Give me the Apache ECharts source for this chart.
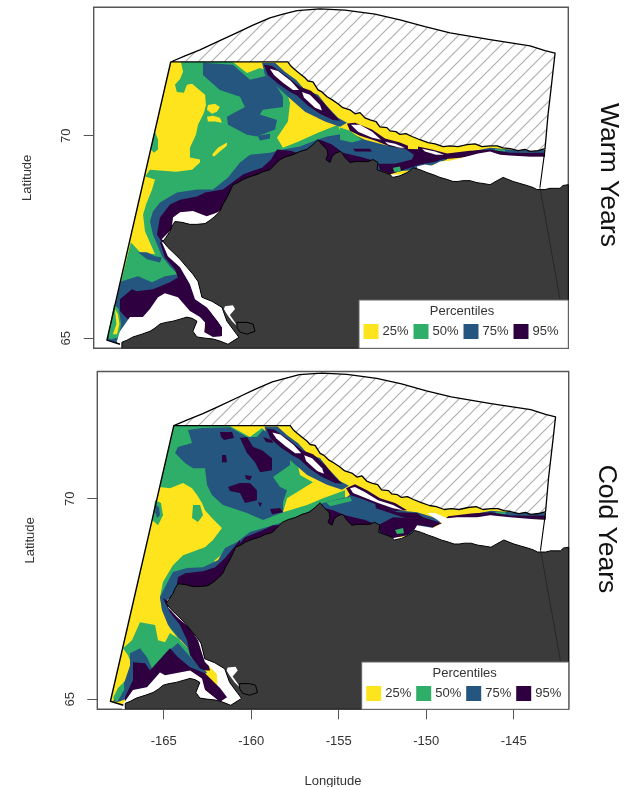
<!DOCTYPE html>
<html><head><meta charset="utf-8">
<style>html,body{margin:0;padding:0;background:#fff}#c{width:627px;height:787px}</style>
<script src="https://cdn.jsdelivr.net/npm/echarts@6/dist/echarts.min.js"></script>
</head><body><div id="c"></div>
<script>
// ---------- labels ----------
const percentileLabels=['25%','50%','75%','95%'];
const panelLabels=['Warm Years','Cold Years'];
const lonTicks=[-165,-160,-155,-150,-145];
const latTicks=[65,70];
const lonRange=[-168.79,-141.86];
const latRange=[64.75,73.17];
const Y='#FDE41C',G='#2EAE68',B='#25567F',P='#2E0040',W='#FFFFFF',LAND='#3B3B3B';
// ---------- shared geography [lon,lat] ----------
const aoiArc=[[-164.42,71.82],[-163.61,71.97],[-162.76,72.12],[-161.91,72.29],[-160.68,72.54],[-159.75,72.73],[-158.79,72.91],[-158.05,73.0],[-157.25,73.09],[-155.95,73.13],[-154.53,73.10],[-152.83,73.0],[-151.41,72.86],[-149.99,72.69],[-148.57,72.54],[-146.30,72.37],[-144.03,72.22],[-143.18,72.10],[-142.61,72.04],[-142.80,71.31],[-143.01,70.52],[-143.18,69.68]];
const iceEdge=[[-143.58,69.63],[-144.03,69.61],[-144.32,69.66],[-144.71,69.63],[-145.17,69.68],[-145.56,69.70],[-145.90,69.75],[-146.30,69.75],[-146.76,69.73],[-147.15,69.80],[-147.61,69.78],[-148.12,69.73],[-148.57,69.75],[-148.97,69.73],[-149.42,69.80],[-149.82,69.83],[-150.28,69.90],[-150.73,69.98],[-151.07,70.05],[-151.41,70.03],[-151.64,70.10],[-151.98,70.12],[-152.15,70.20],[-152.55,70.22],[-152.77,70.35],[-153.11,70.39],[-153.40,70.44],[-153.68,70.57],[-153.96,70.54],[-154.25,70.64],[-154.65,70.69],[-154.93,70.79],[-155.27,70.89],[-155.55,70.96],[-155.84,71.08],[-156.06,71.13],[-156.35,71.33],[-156.63,71.35],[-156.80,71.43],[-157.09,71.53],[-157.37,71.63],[-157.60,71.72],[-157.77,71.82]];
const domainSouth=[[-143.18,69.68],[-143.18,69.48],[-145.74,69.29],[-150.28,69.04],[-154.81,69.04],[-159.92,68.67],[-162.19,67.69],[-161.91,65.22],[-162.76,64.98],[-167.30,64.85],[-168.04,64.95],[-164.42,71.82]];
const westEdge=[[-164.42,71.82],[-168.04,64.95],[-167.30,64.85]];
const eastEdge=[[-143.18,69.66],[-143.28,69.34],[-143.47,68.72]];
const boundaryOnLand=[[-143.47,68.72],[-142.33,65.96]];
const land=[[-141.86,68.79],[-142.16,68.77],[-142.33,68.70],[-142.90,68.70],[-143.18,68.67],[-143.64,68.67],[-143.86,68.72],[-144.20,68.77],[-144.60,68.82],[-144.99,68.87],[-145.28,68.92],[-145.56,68.97],[-145.90,68.89],[-146.30,68.79],[-146.70,68.82],[-147.04,68.84],[-147.44,68.89],[-147.83,68.89],[-148.12,68.87],[-148.40,68.87],[-148.74,68.92],[-149.14,68.97],[-149.54,69.04],[-149.88,69.09],[-150.28,69.16],[-150.67,69.21],[-150.84,69.14],[-151.01,69.09],[-151.41,69.01],[-151.81,68.97],[-151.98,69.04],[-152.26,69.09],[-152.71,69.16],[-152.66,69.34],[-152.94,69.41],[-153.23,69.36],[-153.51,69.36],[-153.91,69.36],[-154.25,69.34],[-154.53,69.46],[-154.70,69.58],[-154.81,69.61],[-155.10,69.56],[-155.27,69.48],[-155.38,69.34],[-155.61,69.41],[-155.50,69.53],[-155.55,69.66],[-155.84,69.78],[-156.06,69.90],[-156.35,69.78],[-156.69,69.66],[-157.09,69.61],[-157.48,69.53],[-157.88,69.48],[-158.22,69.41],[-158.50,69.29],[-158.79,69.16],[-159.19,69.11],[-159.53,69.04],[-159.92,68.99],[-160.32,68.92],[-160.60,68.84],[-160.89,68.79],[-161.06,68.62],[-161.23,68.47],[-161.46,68.30],[-161.63,68.13],[-161.91,68.01],[-162.19,67.91],[-162.47,67.83],[-162.93,67.81],[-163.33,67.81],[-163.78,67.86],[-164.18,67.88],[-164.35,67.76],[-164.46,67.64],[-164.69,67.49],[-164.86,67.39],[-164.58,67.24],[-164.29,67.12],[-163.89,66.95],[-163.50,66.75],[-163.16,66.58],[-162.87,66.40],[-162.76,66.21],[-162.65,66.01],[-162.08,65.91],[-161.51,65.76],[-161.23,65.42],[-160.77,65.15],[-160.55,65.02],[-161.17,64.85],[-161.63,64.93],[-162.02,64.98],[-162.47,65.0],[-162.93,65.03],[-163.16,65.17],[-162.93,65.42],[-163.21,65.49],[-163.50,65.52],[-163.89,65.47],[-164.29,65.42],[-164.69,65.39],[-165.03,65.35],[-165.31,65.25],[-165.60,65.17],[-166.05,65.10],[-166.56,65.03],[-166.90,64.95],[-167.19,64.90],[-167.19,64.75],[-141.86,64.75]];
const bay=[[-161.34,65.79],[-160.89,65.81],[-160.77,65.72],[-161.06,65.57],[-160.77,65.39],[-160.66,65.30],[-160.94,65.42],[-161.23,65.59],[-161.40,65.72]];
const lake=[[-160.66,65.39],[-160.09,65.39],[-159.75,65.35],[-159.64,65.17],[-160.09,65.10],[-160.49,65.15],[-160.66,65.27],[-160.66,65.39]];
// ---------- shared near-ice bands ----------
const blueNorthHalo=[[-159.24,71.80],[-158.50,71.80],[-157.94,71.58],[-157.31,71.38],[-156.80,71.13],[-156.06,71.01],[-155.61,70.76],[-154.93,70.44],[-154.42,70.32],[-154.81,70.22],[-155.67,70.35],[-156.80,70.59],[-157.77,70.96],[-158.50,71.26],[-159.07,71.50]];
const purpleNorthHalo=[[-159.13,71.75],[-158.67,71.72],[-157.94,71.50],[-157.09,71.21],[-156.46,71.11],[-155.78,70.84],[-155.27,70.57],[-154.81,70.37],[-155.21,70.39],[-155.95,70.54],[-156.63,70.74],[-157.25,70.99],[-157.65,71.08],[-158.33,71.28],[-158.90,71.50]];
const whiteLensA=[[-158.79,71.65],[-158.33,71.60],[-157.60,71.35],[-157.14,71.13],[-157.48,71.13],[-158.05,71.31],[-158.56,71.50]];
const whiteLensB=[[-156.97,71.08],[-156.52,71.01],[-155.95,70.76],[-155.84,70.62],[-156.23,70.69],[-156.86,70.94]];
const blueEastStrip=[[-146.30,69.70],[-145.17,69.66],[-143.18,69.66],[-143.18,69.48],[-145.17,69.48],[-146.30,69.58],[-147.44,69.53],[-148.29,69.53]];
const purpleEastStrip=[[-148.74,69.56],[-147.44,69.63],[-146.30,69.66],[-145.17,69.58],[-143.18,69.58],[-143.18,69.48],[-145.17,69.48],[-146.30,69.58],[-147.83,69.46],[-149.14,69.41]];
const greenEastA=[[-146.02,69.67],[-145.45,69.66],[-145.45,69.61],[-146.02,69.63]];
const greenEastB=[[-144.60,69.58],[-143.86,69.58],[-143.86,69.53],[-144.60,69.53]];
// ---------- warm years ----------
const warmGreen=[[-163.84,71.82],[-163.72,71.58],[-163.89,71.40],[-164.18,71.26],[-164.07,71.08],[-163.67,71.06],[-163.50,71.26],[-163.21,71.28],[-162.47,71.01],[-162.42,70.76],[-162.53,70.57],[-162.87,70.27],[-162.99,70.02],[-163.33,69.70],[-163.33,69.46],[-162.76,69.41],[-162.76,69.34],[-163.21,69.16],[-164.12,69.11],[-165.60,69.16],[-165.88,68.99],[-165.31,68.92],[-165.48,68.67],[-165.82,68.30],[-165.99,68.05],[-165.88,67.64],[-165.31,67.07],[-166.16,67.12],[-166.68,67.37],[-167.24,66.40],[-167.50,65.96],[-167.02,65.22],[-162.76,65.96],[-159.92,68.79],[-154.53,69.78],[-154.93,70.27],[-156.06,70.07],[-157.20,69.85],[-158.05,69.70],[-158.39,69.95],[-157.77,70.35],[-157.65,70.81],[-157.82,71.06],[-158.33,71.50],[-159.36,71.67],[-160.09,71.55],[-160.89,71.82]];
const warmGreenEdgeBlob=[[-165.31,70.10],[-165.14,69.90],[-165.14,69.66],[-165.37,69.58],[-165.54,69.66],[-165.43,69.95]];
const warmYellowA=[[-162.31,70.76],[-161.91,70.79],[-161.63,70.71],[-161.80,70.59],[-162.08,70.54],[-162.36,70.64]];
const warmYellowB=[[-162.36,70.47],[-162.02,70.49],[-161.63,70.44],[-161.51,70.32],[-161.91,70.35],[-162.31,70.35]];
const warmYellowC=[[-162.08,69.53],[-161.74,69.70],[-161.23,69.83],[-161.23,69.75],[-161.63,69.61],[-161.97,69.48]];
const warmBlueMain=[[-162.59,71.80],[-160.89,71.75],[-159.92,71.38],[-158.79,71.50],[-158.05,70.96],[-158.05,70.71],[-159.19,70.64],[-159.36,70.52],[-158.39,70.39],[-158.50,70.15],[-159.53,69.98],[-160.09,70.02],[-161.17,70.27],[-161.23,70.47],[-160.21,70.71],[-160.49,70.96],[-161.63,71.13],[-162.59,71.50]];
const warmBlueSmall=[[-159.47,70.00],[-158.79,70.05],[-158.79,69.93],[-159.36,69.88]];
const warmBlueCoast=[[-148.74,69.48],[-150.28,69.66],[-151.01,69.66],[-152.38,69.78],[-153.40,69.90],[-154.25,70.07],[-155.55,69.98],[-156.12,69.90],[-157.09,69.73],[-158.05,69.66],[-158.79,69.58],[-159.92,69.53],[-160.49,69.34],[-161.17,68.97],[-162.02,68.67],[-162.93,68.67],[-164.07,68.60],[-165.03,68.35],[-165.43,68.13],[-165.60,67.88],[-165.43,67.56],[-165.20,67.32],[-164.92,67.02],[-164.46,66.77],[-164.01,66.58],[-164.75,66.53],[-165.48,66.38],[-166.28,66.53],[-167.24,66.40],[-168.04,64.95],[-167.30,64.85],[-166.73,65.47],[-162.76,65.47],[-160.49,65.96],[-159.36,68.42],[-154.25,69.04],[-150.28,69.16],[-148.74,69.41]];
const warmBlueBand=[[-166.28,67.12],[-165.77,66.95],[-165.03,66.87],[-164.92,66.99],[-165.31,67.02],[-165.77,67.12]];
const warmGreenCorner=[[-167.64,65.84],[-167.36,65.72],[-167.24,65.35],[-167.36,65.02],[-167.87,64.97],[-167.98,65.07]];
const warmYellowCorner=[[-167.58,65.72],[-167.41,65.59],[-167.33,65.35],[-167.47,65.10],[-167.70,65.10],[-167.50,65.35],[-167.56,65.59]];
const warmGreenSliver=[[-154.81,70.20],[-154.25,70.12],[-153.57,69.90],[-154.13,69.83],[-154.81,69.90]];
const warmPurpleCape=[[-160.32,69.04],[-161.46,68.67],[-162.47,68.60],[-162.93,68.50],[-163.89,68.42],[-164.46,68.30],[-165.03,67.98],[-165.20,67.56],[-164.92,67.37],[-164.18,67.44],[-161.06,67.93],[-159.36,68.92]];
const warmPurpleSouth=[[-165.03,67.37],[-164.75,66.99],[-164.18,66.70],[-164.01,66.50],[-164.46,66.38],[-165.43,66.21],[-166.34,66.16],[-166.62,66.21],[-167.30,65.96],[-167.30,65.67],[-167.02,65.54],[-166.73,65.42],[-166.0,65.42],[-165.60,65.67],[-165.14,65.96],[-164.75,66.06],[-164.01,65.96],[-163.33,65.62],[-162.76,65.47],[-162.47,65.35],[-162.53,65.10],[-162.02,64.98],[-161.51,65.05],[-161.51,65.27],[-161.74,65.42],[-162.36,65.76],[-163.04,65.96],[-163.33,66.33],[-163.89,66.75],[-164.58,67.02],[-164.86,67.37]];
const warmPurpleCoast=[[-160.32,69.04],[-159.92,69.11],[-159.24,69.21],[-158.73,69.41],[-158.39,69.66],[-157.65,69.63],[-157.25,69.58],[-156.52,69.70],[-155.95,69.90],[-155.27,69.78],[-154.65,69.58],[-153.68,69.48],[-152.71,69.36],[-153.11,69.04],[-157.09,69.16],[-159.92,68.87]];
const warmPurpleEast=[[-151.13,69.68],[-150.10,69.66],[-148.74,69.48],[-149.31,69.36],[-150.28,69.29],[-150.84,69.21],[-151.98,69.04],[-152.55,69.16],[-152.66,69.31],[-151.69,69.31],[-150.73,69.41],[-150.62,69.53]];
const warmPurplePatch=[[-154.08,69.68],[-153.11,69.68],[-153.0,69.61],[-153.96,69.61]];
const warmPurpleLens=[[-154.42,70.30],[-153.96,70.32],[-153.0,70.15],[-152.26,69.93],[-151.41,69.83],[-150.96,69.75],[-150.96,69.66],[-151.98,69.73],[-152.83,69.88],[-153.68,70.0],[-154.25,70.12]];
const warmPurpleLensE=[[-150.39,69.73],[-149.59,69.66],[-148.74,69.56],[-148.74,69.48],[-149.59,69.53],[-150.39,69.66]];
const warmGreenEast=[[-151.81,69.21],[-151.41,69.24],[-151.35,69.11],[-151.75,69.11]];
const warmWhiteSound=[[-167.49,64.90],[-167.30,65.17],[-166.73,65.52],[-166.0,65.52],[-165.60,65.72],[-165.14,66.01],[-164.75,66.11],[-164.01,66.01],[-163.33,65.67],[-162.76,65.52],[-162.47,65.39],[-162.53,65.15],[-162.02,65.03],[-161.51,65.05],[-161.17,64.85],[-161.91,64.78],[-167.02,64.80]];
const warmWhiteStrait=[[-164.92,67.37],[-164.58,67.02],[-163.89,66.75],[-163.33,66.33],[-163.04,65.96],[-162.36,65.76],[-161.74,65.42],[-161.51,65.27],[-161.51,64.98],[-160.49,64.98],[-160.49,65.96],[-162.47,66.70],[-163.89,67.44]];
const warmWhiteCape=[[-164.93,67.44],[-164.37,67.69],[-164.29,67.98],[-163.89,68.11],[-163.16,68.14],[-162.38,68.01],[-161.81,68.10],[-160.49,68.42],[-160.49,67.44],[-164.18,67.19]];
const warmWhiteEast=[[-150.45,69.24],[-149.99,69.29],[-149.59,69.26],[-149.14,69.36],[-148.57,69.38],[-147.83,69.46],[-146.98,69.56],[-146.30,69.61],[-145.74,69.53],[-145.17,69.51],[-144.03,69.48],[-143.29,69.48],[-143.27,69.29],[-143.47,68.62],[-150.28,68.67]];
const warmLensC=[[-154.19,70.27],[-153.68,70.27],[-152.99,70.10],[-152.49,69.90],[-152.99,69.95],[-153.79,70.10]];
const warmLensD=[[-152.26,69.85],[-151.69,69.80],[-151.13,69.70],[-151.41,69.70],[-152.09,69.78]];
const warmLensE=[[-150.16,69.68],[-149.42,69.61],[-148.91,69.53],[-149.37,69.53],[-149.99,69.61]];
// ---------- cold years ----------
const coldGreen=[[-164.42,71.82],[-161.21,71.81],[-160.07,71.54],[-159.38,71.76],[-158.92,71.59],[-157.21,71.21],[-157.32,70.81],[-157.21,70.59],[-156.47,70.41],[-157.21,70.21],[-157.95,70.01],[-158.18,69.66],[-156.81,69.84],[-155.89,70.01],[-154.64,70.21],[-154.64,69.71],[-160.64,68.97],[-162.06,68.47],[-163.49,67.47],[-164.07,66.47],[-164.18,66.52],[-164.64,66.77],[-165.09,67.22],[-165.21,67.54],[-165.04,67.92],[-164.47,68.34],[-163.89,68.59],[-162.64,68.79],[-162.18,68.97],[-161.67,69.27],[-162.24,69.52],[-162.64,69.71],[-162.81,69.89],[-163.09,70.09],[-163.38,70.26],[-163.89,70.39],[-164.64,70.26],[-165.23,70.29]];
const coldGreenBlobA=[[-163.32,69.84],[-162.92,69.84],[-162.75,69.59],[-163.04,69.42],[-163.38,69.52]];
const coldGreenBlobB=[[-165.49,69.96],[-165.15,69.89],[-165.04,69.59],[-165.32,69.34],[-165.66,69.47]];
const coldBlueBlob=[[-165.44,69.84],[-165.27,69.79],[-165.21,69.59],[-165.38,69.52],[-165.49,69.67]];
const coldGreenSouth=[[-166.35,66.92],[-165.49,66.85],[-165.32,66.47],[-164.92,66.42],[-164.64,66.65],[-164.18,66.52],[-163.61,66.27],[-162.92,65.77],[-164.64,65.47],[-166.64,65.67],[-167.04,66.10],[-167.32,66.27],[-166.81,66.47]];
const coldBlueMain=[[-163.61,71.71],[-162.81,71.76],[-161.21,71.78],[-160.24,71.54],[-159.67,71.54],[-159.32,71.71],[-158.64,71.54],[-157.78,71.01],[-157.78,70.84],[-158.75,70.54],[-158.35,70.29],[-157.95,70.21],[-158.18,69.92],[-158.18,69.66],[-159.32,69.47],[-160.24,69.64],[-161.61,69.84],[-162.24,70.09],[-162.52,70.34],[-162.64,70.76],[-163.32,70.76],[-163.78,70.89],[-164.35,71.14],[-164.18,71.29],[-163.38,71.39]];
const coldPurpleA=[[-161.78,71.66],[-161.09,71.66],[-160.98,71.51],[-161.55,71.46],[-161.72,71.54]];
const coldPurpleB=[[-160.64,71.51],[-160.24,71.54],[-159.89,71.29],[-159.38,71.21],[-158.81,71.01],[-158.81,70.71],[-159.49,70.66],[-159.78,70.91],[-160.24,71.14]];
const coldPurpleC=[[-161.67,71.09],[-161.44,71.09],[-161.38,70.91],[-161.67,70.91]];
const coldPurpleD=[[-161.32,70.29],[-160.64,70.39],[-160.07,70.39],[-159.67,70.21],[-159.67,69.96],[-160.35,69.89],[-160.64,70.14],[-161.21,70.19]];
const coldPurpleE=[[-159.61,69.91],[-159.38,69.89],[-159.49,69.79]];
const coldPurpleF=[[-158.92,69.74],[-158.35,69.77],[-158.18,69.66],[-158.81,69.61]];
const coldPurpleG=[[-160.35,70.59],[-159.95,70.56],[-160.07,70.46],[-160.29,70.49]];
const coldPurpleH=[[-159.32,71.54],[-158.81,71.46],[-158.75,71.39],[-159.15,71.41]];
const coldBlueCoast=[[-155.89,69.89],[-154.52,70.04],[-154.24,70.14],[-153.04,69.91],[-151.67,69.71],[-150.52,69.66],[-149.09,69.47],[-149.78,69.22],[-151.09,69.09],[-152.64,68.97],[-154.92,69.22],[-157.21,69.22],[-160.35,67.47],[-162.64,65.72],[-163.32,65.97],[-163.66,66.30],[-164.18,66.55],[-164.75,66.85],[-165.09,67.22],[-165.21,67.54],[-164.81,67.89],[-164.47,68.17],[-163.66,68.27],[-162.75,68.29],[-161.89,68.47],[-161.49,68.77],[-160.81,68.92],[-160.07,69.17],[-158.75,69.34],[-157.78,69.47],[-156.81,69.66]];
const coldBlueSouth=[[-166.92,66.15],[-166.35,66.27],[-165.95,66.05],[-165.66,65.77],[-164.81,66.17],[-164.18,66.40],[-163.66,66.15],[-163.21,65.93],[-162.52,65.67],[-163.49,65.35],[-165.78,65.23],[-167.61,64.93],[-167.89,64.95],[-167.21,65.47],[-166.92,65.84]];
const coldGreenSliver=[[-155.72,69.91],[-154.35,70.04],[-154.24,69.94],[-155.49,69.81]];
const coldGreenCorner=[[-167.89,65.03],[-167.61,65.28],[-167.26,65.43],[-167.26,65.23],[-167.66,64.93]];
const coldPurpleEast=[[-152.92,69.89],[-151.67,69.66],[-150.52,69.64],[-150.18,69.54],[-149.09,69.39],[-149.61,69.29],[-150.35,69.34],[-151.09,69.09],[-151.89,69.02],[-152.64,69.17],[-152.75,69.34],[-151.89,69.54],[-151.21,69.52],[-152.18,69.66],[-152.87,69.76]];
const coldGreenEast=[[-151.78,69.22],[-151.32,69.27],[-151.27,69.14],[-151.67,69.12]];
const coldPurpleLens=[[-154.58,70.26],[-154.07,70.36],[-153.38,70.21],[-152.64,70.01],[-151.78,69.89],[-151.09,69.71],[-151.78,69.69],[-152.75,69.84],[-153.78,70.01],[-154.35,70.09]];
const coldLensBig=[[-154.35,70.26],[-154.07,70.29],[-153.49,70.16],[-152.75,69.96],[-151.89,69.84],[-151.32,69.71],[-151.89,69.76],[-152.75,69.89],[-153.61,70.04],[-154.18,70.14]];
const coldPurpleCoast=[[-161.09,68.67],[-160.35,69.04],[-159.32,69.22],[-158.75,69.34],[-158.07,69.34],[-157.21,69.47],[-156.07,69.79],[-155.32,69.71],[-154.64,69.59],[-153.49,69.47],[-152.75,69.34],[-153.21,68.97],[-157.21,68.97],[-160.64,68.47]];
const coldPurpleCape=[[-160.64,68.97],[-161.49,68.52],[-162.06,68.29],[-162.75,68.19],[-163.78,68.14],[-164.18,68.04],[-164.29,67.72],[-164.64,67.54],[-164.07,67.47],[-160.64,67.72]];
const coldPurpleStrip=[[-165.04,67.52],[-164.64,67.17],[-164.07,66.85],[-163.66,66.47],[-163.49,66.10],[-162.92,65.77],[-162.64,65.72],[-162.35,65.72],[-162.64,66.22],[-163.04,66.47],[-163.32,66.77],[-164.07,67.10],[-164.52,67.40]];
const coldPurpleSouth=[[-166.75,65.92],[-166.06,65.90],[-165.78,65.72],[-164.64,66.27],[-164.18,66.05],[-163.49,65.80],[-162.64,65.65],[-161.78,65.28],[-161.38,65.05],[-161.78,64.93],[-162.64,65.23],[-162.92,65.48],[-163.49,65.67],[-164.92,65.60],[-165.21,65.67],[-165.95,65.30],[-166.75,65.23],[-167.21,64.90],[-167.21,65.05],[-166.75,65.48]];
const coldWhiteStrait=[[-164.75,67.29],[-164.24,67.05],[-163.49,66.77],[-163.04,66.47],[-162.81,66.15],[-162.64,65.93],[-161.61,65.48],[-161.21,65.15],[-161.49,64.90],[-160.35,64.90],[-160.07,65.97],[-162.64,66.85],[-164.07,67.47],[-164.52,67.40]];
const coldWhiteCape=[[-164.81,67.47],[-164.47,67.57],[-164.18,67.47],[-164.52,67.37]];
const coldWhiteSound=[[-167.32,64.88],[-166.75,65.23],[-165.95,65.30],[-165.21,65.67],[-164.92,65.60],[-163.49,65.72],[-162.81,65.52],[-162.64,65.23],[-161.78,64.93],[-161.32,65.05],[-160.75,64.98],[-160.75,64.75],[-167.38,64.75]];
const coldWhiteEast=[[-150.75,69.17],[-150.52,69.34],[-149.61,69.27],[-149.09,69.39],[-149.95,69.64],[-149.49,69.64],[-148.81,69.51],[-148.24,69.54],[-147.09,69.54],[-146.35,69.59],[-145.21,69.54],[-143.32,69.47],[-143.29,69.22],[-143.49,68.59],[-150.35,68.59]];

// ---------- assembling ----------
const domain=[...aoiArc.slice(0,1),...iceEdge.slice().reverse(),...domainSouth];
const aoiPolygon=[...aoiArc,...iceEdge];
function hatch(){
  const s=13,c=document.createElement('canvas');c.width=c.height=s;
  const g=c.getContext('2d');g.fillStyle='#fff';g.fillRect(0,0,s,s);
  g.strokeStyle='#b0b0b0';g.lineWidth=1.2;
  g.beginPath();g.moveTo(-1,s+1);g.lineTo(s+1,-1);g.moveTo(-1,1);g.lineTo(1,-1);g.moveTo(s-1,s+1);g.lineTo(s+1,s-1);g.stroke();
  return {image:c,repeat:'repeat'};
}
const hatchFill=hatch();
const f=(pts,fill)=>({pts,fill});
const tail=[
  {pts:land,fill:LAND,stroke:'#000',width:1},
  f(bay,W),
  {pts:lake,stroke:'#000',width:1,line:true},
  {pts:boundaryOnLand,stroke:'#222',width:.8,line:true},
  {pts:aoiPolygon,fill:hatchFill,stroke:'#000',width:1.3},
  {pts:westEdge,stroke:'#000',width:1.4,line:true},
  {pts:eastEdge,stroke:'#000',width:1.1,line:true}
];
const warmLayers=[
  f(domain,Y),f(warmGreen,G),f(warmGreenEdgeBlob,G),f(warmYellowA,Y),f(warmYellowB,Y),f(warmYellowC,Y),
  f(warmBlueMain,B),f(warmBlueSmall,B),f(warmBlueCoast,B),f(warmBlueBand,B),f(blueNorthHalo,B),
  f(warmGreenCorner,G),f(warmYellowCorner,Y),f(warmGreenSliver,G),f(blueEastStrip,B),f(greenEastA,G),f(greenEastB,G),
  f(warmPurpleCape,P),f(warmPurpleSouth,P),f(warmPurpleCoast,P),f(warmPurpleEast,P),f(warmPurplePatch,P),f(purpleNorthHalo,P),f(warmPurpleLens,P),f(warmPurpleLensE,P),f(purpleEastStrip,P),f(warmGreenEast,G),
  f(whiteLensA,W),f(whiteLensB,W),f(warmLensC,W),f(warmLensD,W),f(warmLensE,W),
  f(warmWhiteSound,W),f(warmWhiteStrait,W),f(warmWhiteCape,W),f(warmWhiteEast,W),...tail
];
const coldLayers=[
  f(domain,Y),f(coldGreen,G),f(coldGreenBlobA,G),f(coldGreenBlobB,G),f(coldBlueBlob,B),f(coldGreenSouth,G),
  f(coldBlueMain,B),f(coldBlueCoast,B),f(coldBlueSouth,B),f(blueNorthHalo,B),
  f(coldGreenSliver,G),f(coldGreenCorner,G),f(blueEastStrip,B),f(greenEastA,G),f(greenEastB,G),
  f(coldPurpleA,P),f(coldPurpleB,P),f(coldPurpleC,P),f(coldPurpleD,P),f(coldPurpleE,P),f(coldPurpleF,P),f(coldPurpleG,P),f(coldPurpleH,P),
  f(coldPurpleCoast,P),f(coldPurpleCape,P),f(coldPurpleStrip,P),f(coldPurpleSouth,P),f(coldPurpleEast,P),f(purpleNorthHalo,P),f(coldPurpleLens,P),f(purpleEastStrip,P),f(coldGreenEast,G),
  f(whiteLensA,W),f(whiteLensB,W),f(coldLensBig,W),
  f(coldWhiteSound,W),f(coldWhiteStrait,W),f(coldWhiteCape,W),f(coldWhiteEast,W),...tail
];
function mapSeries(layers,idx){
  return {type:'custom',xAxisIndex:idx,yAxisIndex:idx,silent:true,animation:false,clip:true,
    data:layers.map((_,i)=>[i]),encode:{x:0},
    renderItem(p,api){
      const l=layers[api.value(0)];
      const points=l.pts.map(q=>api.coord(q));
      return {type:l.line?'polyline':'polygon',shape:{points},
        style:{fill:l.line?null:l.fill,stroke:l.stroke||null,lineWidth:l.width||0,lineJoin:'round'}};
    }};
}
const txt='#333';
const font='"Liberation Sans",Arial,sans-serif';
function xAx(i,show){return {type:'value',gridIndex:i,min:lonRange[0],max:lonRange[1],splitLine:{show:false},axisLine:{show:false},
  axisTick:{show,length:10,customValues:lonTicks,lineStyle:{color:'#555',width:1}},
  axisLabel:{show,customValues:lonTicks,margin:26,fontSize:13,color:txt,fontFamily:font},
  name:show?'Longitude':'',nameLocation:'middle',nameGap:66,nameTextStyle:{fontSize:13,color:txt,fontFamily:font}};}
function yAx(i,gap){return {type:'value',gridIndex:i,min:latRange[0],max:latRange[1],splitLine:{show:false},axisLine:{show:false},
  axisTick:{length:10,customValues:latTicks,lineStyle:{color:'#555',width:1}},
  axisLabel:{customValues:latTicks,rotate:90,margin:27,fontSize:13,color:txt,fontFamily:font,verticalAlign:'middle'},
  name:'Latitude',nameLocation:'middle',nameGap:gap,nameTextStyle:{fontSize:13,color:txt,fontFamily:font}};}
const swatches=[Y,G,B,P];
function legend(left,top,right,bottom){
  const els=[{type:'rect',shape:{x:left,y:top,width:right-left,height:bottom-top},style:{fill:'#fff',stroke:'#666',lineWidth:1},z:20},
   {type:'text',x:left+103,y:top+11,style:{text:'Percentiles',fontSize:13,fill:txt,fontFamily:font,align:'center',verticalAlign:'middle'},z:21}];
  percentileLabels.forEach((t,i)=>{
    els.push({type:'rect',shape:{x:left+4.5+50*i,y:top+24,width:15,height:15},style:{fill:swatches[i]},z:21});
    els.push({type:'text',x:left+23.5+50*i,y:top+31.5,style:{text:t,fontSize:13,fill:txt,fontFamily:font,verticalAlign:'middle'},z:21});
  });
  return els;
}
function sideLabel(t,x,y){return {type:'text',x,y,rotation:-Math.PI/2,style:{text:t,fontSize:26.5,fill:'#111',fontFamily:font,align:'center',verticalAlign:'middle'},z:21};}
const chart=echarts.init(document.getElementById('c'),null,{renderer:'canvas'});
chart.setOption({
  animation:false,backgroundColor:'#fff',
  grid:[
    {left:93.7,top:7.3,width:474.6,height:341,show:true,borderColor:'#555',borderWidth:1.4,backgroundColor:'#fff',containLabel:false,outerBoundsMode:'none'},
    {left:97.3,top:371.5,width:471.4,height:337.8,show:true,borderColor:'#555',borderWidth:1.4,backgroundColor:'#fff',containLabel:false,outerBoundsMode:'none'}
  ],
  xAxis:[xAx(0,false),xAx(1,true)],
  yAxis:[yAx(0,60),yAx(1,60)],
  series:[mapSeries(warmLayers,0),mapSeries(coldLayers,1)],
  graphic:{elements:[...legend(359,300,568.3,348.3),...legend(361.7,662,568.7,709.3),sideLabel(panelLabels[0],608,175),sideLabel(panelLabels[1],606,529)]}
});
</script></body></html>
